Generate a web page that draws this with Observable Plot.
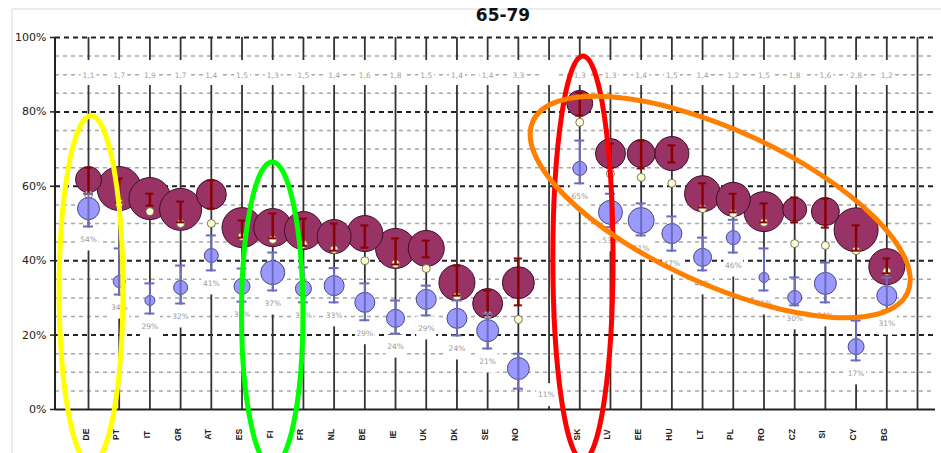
<!DOCTYPE html>
<html>
<head>
<meta charset="utf-8">
<script src="https://cdn.jsdelivr.net/npm/d3@7"></script>
<script src="https://cdn.jsdelivr.net/npm/@observablehq/plot@0.6"></script>
<style>
  html, body { margin: 0; padding: 0; background: #fff; }
  #chart { position: relative; width: 941px; height: 453px; overflow: hidden; }
</style>
</head>
<body>
<div id="chart"></div>
<script>
// ---------- data ----------
const countries = ["DE","PT","IT","GR","AT","ES","FI","FR","NL","BE","IE","UK","DK","SE","NO","","SK","LV","EE","HU","LT","PL","RO","CZ","SI","CY","BG",""];
const purple     = [61.8,59.4,56.7,53.8,57.8,48.9,48.9,48.1,46.5,47.3,43.3,43.3,34.1,28.5,34.1,null,82.3,68.8,68.8,68.8,58.0,56.5,53.2,53.8,53.2,48.3,38.4,null];
const purpleLow  = [58.0,55.6,54.8,50.3,54.0,46.2,46.0,44.0,42.7,43.5,39.0,40.9,30.6,25.3,28.0,null,79.0,65.0,64.8,66.4,54.3,53.0,50.3,50.3,48.9,42.7,36.6,null];
const purpleHigh = [65.0,62.1,58.0,55.9,61.6,50.8,52.7,51.3,50.0,49.5,46.0,45.4,38.7,32.0,40.6,null,85.2,71.5,72.3,71.0,60.8,58.0,55.4,57.0,56.7,49.5,40.6,null];
const purpleN    = [169,484,441,441,225,400,361,361,289,324,400,324,324,225,256,null,169,225,196,289,324,289,400,144,196,484,324,null];
const cream      = [57.8,55.5,53.2,50.0,50.0,46.5,45.7,44.4,43.0,40.0,39.2,37.9,30.4,25.5,24.2,null,77.2,63.4,62.4,60.8,54.0,52.7,50.3,44.6,44.1,42.7,37.1,null];
const blue       = [54.0,34.4,29.3,32.8,41.4,33.1,36.8,32.5,33.3,28.8,24.5,29.6,24.5,21.2,11.0,null,64.8,53.0,50.8,47.3,40.9,46.2,35.5,30.1,33.9,16.9,30.6,null];
const blueLow    = [49.2,30.9,25.8,28.5,37.4,29.0,32.0,28.8,28.8,24.0,20.4,25.3,19.9,16.4,5.6,null,60.8,49.0,46.8,42.7,37.4,42.2,32.0,28.0,28.8,13.2,26.6,null];
const blueHigh   = [58.0,43.3,33.9,38.7,46.8,37.9,42.2,38.2,38.0,33.9,29.3,33.3,29.3,25.8,15.0,null,72.3,58.0,55.4,51.9,46.2,51.0,43.3,35.5,39.5,23.9,35.5,null];
const blueN      = [121,36,25,49,49,64,144,64,100,100,81,100,100,121,121,null,49,144,169,100,81,49,25,49,121,64,100,null];
const blueLabels = ["54%","34%","29%","32%","41%","33%","37%","33%","33%","29%","24%","29%","24%","21%","11%",null,"65%","53%","51%","47%","41%","46%","35%","30%","34%","17%","31%",null];
const ratioLabels = ["1,1","1,7","1,9","1,7","1,4","1,5","1,3","1,5","1,4","1,6","1,8","1,5","1,4","1,4","3,3","","1,3","1,3","1,4","1,5","1,4","1,2","1,5","1,8","1,6","2,8","1,2",null];
const yTicks = [0, 20, 40, 60, 80, 100];
const minorTicks = [5,10,15,25,30,35,45,50,55,65,70,75,85,90,95];
const title = "65-79";

// annotation ellipses (centre in column index / percent, radii in columns / percent)
const ellipses = [
  {color: "#ffff00", cx: 0.1,   cy: 32.0, rx: 1.04, ry: 46.8, angle: 0},
  {color: "#00ff00", cx: 6.0,   cy: 25.5, rx: 1.00, ry: 40.9, angle: 0},
  {color: "#ff0000", cx: 16.12, cy: 40.6, rx: 0.98, ry: 54.3, angle: 0},
  {color: "#ff8000", cx: 20.59, cy: 54.3, rx: 6.71, ry: 20.7, angle: 24.6}
];

// ---------- table ----------
const rows = countries.map((c, i) => ({
  i, c,
  purple: purple[i], pLow: purpleLow[i], pHigh: purpleHigh[i], pN: purpleN[i],
  cream: cream[i],
  blue: blue[i], bLow: blueLow[i], bHigh: blueHigh[i], bN: blueN[i],
  bLabel: blueLabels[i], ratio: ratioLabels[i]
}));
const valid = rows.filter(d => d.purple != null);
const labelRows = valid.filter(d => d.c !== "NO");
const noRow = valid.filter(d => d.c === "NO");

const rectSymbol = (w, h) => ({
  draw(ctx) {
    ctx.moveTo(-w / 2, -h / 2); ctx.lineTo(w / 2, -h / 2);
    ctx.lineTo(w / 2, h / 2); ctx.lineTo(-w / 2, h / 2); ctx.closePath();
  }
});

const small = {fontSize: 7.5, fontFamily: "DejaVu Sans"};

const plot = Plot.plot({
  width: 941,
  height: 453,
  marginTop: 37,
  marginBottom: 44,
  marginLeft: 55,
  marginRight: 6,
  style: {background: "transparent", fontFamily: "DejaVu Sans"},
  x: {type: "band", domain: rows.map(d => d.i), padding: 0, round: false, insetLeft: 17.65, insetRight: 2.65, axis: null},
  y: {domain: [0, 100], axis: null},
  r: {type: "sqrt", domain: [0, 484], range: [0, 22]},
  marks: [
    Plot.ruleY(minorTicks, {stroke: "#a8a8a8", strokeWidth: 1.5, strokeDasharray: "4,4"}),
    Plot.ruleY(yTicks.filter(t => t > 0), {stroke: "#222", strokeWidth: 2, strokeDasharray: "5,4"}),
    Plot.ruleX(rows, {x: "i", y1: 0, y2: 100, stroke: "#333", strokeWidth: 1.8}),
    Plot.ruleY([0], {stroke: "#222", strokeWidth: 2}),
    // white boxes behind labels
    Plot.dot(rows.filter(d => d.ratio !== null), {x: "i", frameAnchor: "top", dy: 35, symbol: rectSymbol(16, 25), fill: "white", stroke: "none"}),
    Plot.dot(labelRows, {x: "i", y: "bLow", dy: 12.5, symbol: rectSymbol(20, 23), fill: "white", stroke: "none"}),
    Plot.dot(noRow, {x: "i", y: "bLow", dy: 6, dx: 28, symbol: rectSymbol(20, 23), fill: "white", stroke: "none"}),
    Plot.text(rows, {x: "i", text: "ratio", frameAnchor: "top", dy: 35, fill: "#a0a0a0", ...small}),
    Plot.text(labelRows, {x: "i", y: "bLow", dy: 13, text: "bLabel", fill: "#999", ...small}),
    Plot.text(noRow, {x: "i", y: "bLow", dy: 6, dx: 28, text: "bLabel", fill: "#999", ...small}),
    // purple series
    Plot.dot(valid, {x: "i", y: "purple", r: "pN", fill: "#993366", stroke: "#3a1028", strokeWidth: 1}),
    Plot.dot(valid, {x: "i", y: "cream", r: 4, fill: "#ffffcc", stroke: "#555", strokeWidth: 0.8}),
    Plot.ruleX(valid, {x: "i", y1: "pLow", y2: "pHigh", stroke: "#8b0000", strokeWidth: 2.5}),
    Plot.tickY(valid, {x: "i", y: "pLow", stroke: "#8b0000", strokeWidth: 2, insetLeft: 11.35, insetRight: 11.35}),
    Plot.tickY(valid, {x: "i", y: "pHigh", stroke: "#8b0000", strokeWidth: 2, insetLeft: 11.35, insetRight: 11.35}),
    // blue series
    Plot.dot(valid, {x: "i", y: "blue", r: "bN", fill: "#9999ff", stroke: "#4a4a7a", strokeWidth: 1}),
    Plot.ruleX(valid, {x: "i", y1: "bLow", y2: "bHigh", stroke: "#6b6bbf", strokeWidth: 2}),
    Plot.tickY(valid, {x: "i", y: "bLow", stroke: "#6b6bbf", strokeWidth: 2, insetLeft: 10.35, insetRight: 10.35}),
    Plot.tickY(valid, {x: "i", y: "bHigh", stroke: "#6b6bbf", strokeWidth: 2, insetLeft: 10.35, insetRight: 10.35}),
    // axes
    Plot.axisY({ticks: yTicks, tickFormat: d => d + "%", tickSize: 5, tickPadding: 4, fontSize: 11, fill: "#222", stroke: "#222", strokeWidth: 1.5, label: null}),
    Plot.text(rows, {x: "i", text: "c", frameAnchor: "bottom", dy: 25, rotate: -90, textAnchor: "middle", fontSize: 8.5, fontWeight: "bold", fontFamily: "Liberation Sans", fill: "#222"})
  ]
});

document.getElementById("chart").appendChild(plot);

// ---------- decorations positioned with the plot's scales ----------
const svg = d3.select(plot);
const xs = plot.scale("x"), ys = plot.scale("y");
const x0 = xs.apply(0) + xs.bandwidth / 2;
const yTop = ys.apply(100), yBot = ys.apply(0);

// y axis line
svg.append("line").attr("x1", 55).attr("x2", 55).attr("y1", yTop).attr("y2", yBot)
  .attr("stroke", "#222").attr("stroke-width", 2);

// light outer frame
svg.insert("path", ":first-child").attr("d", "M12,453V9H941").attr("fill", "none").attr("stroke", "#d8d8d8").attr("stroke-width", 1);

// title
svg.append("text").attr("x", 503).attr("y", 21).attr("text-anchor", "middle")
  .attr("font-family", "DejaVu Sans").attr("font-weight", "bold").attr("font-size", 17)
  .attr("fill", "#111").text(title);

// annotation ellipses
const pxPerPct = (yBot - ys.apply(1));
for (const e of ellipses) {
  const cx = x0 + e.cx * xs.step;
  const cy = ys.apply(e.cy);
  svg.append("ellipse")
    .attr("cx", cx).attr("cy", cy)
    .attr("rx", e.rx * xs.step).attr("ry", e.ry * pxPerPct)
    .attr("transform", `rotate(${e.angle},${cx},${cy})`)
    .attr("fill", "none").attr("stroke", e.color).attr("stroke-width", 5);
}
</script>
</body>
</html>
